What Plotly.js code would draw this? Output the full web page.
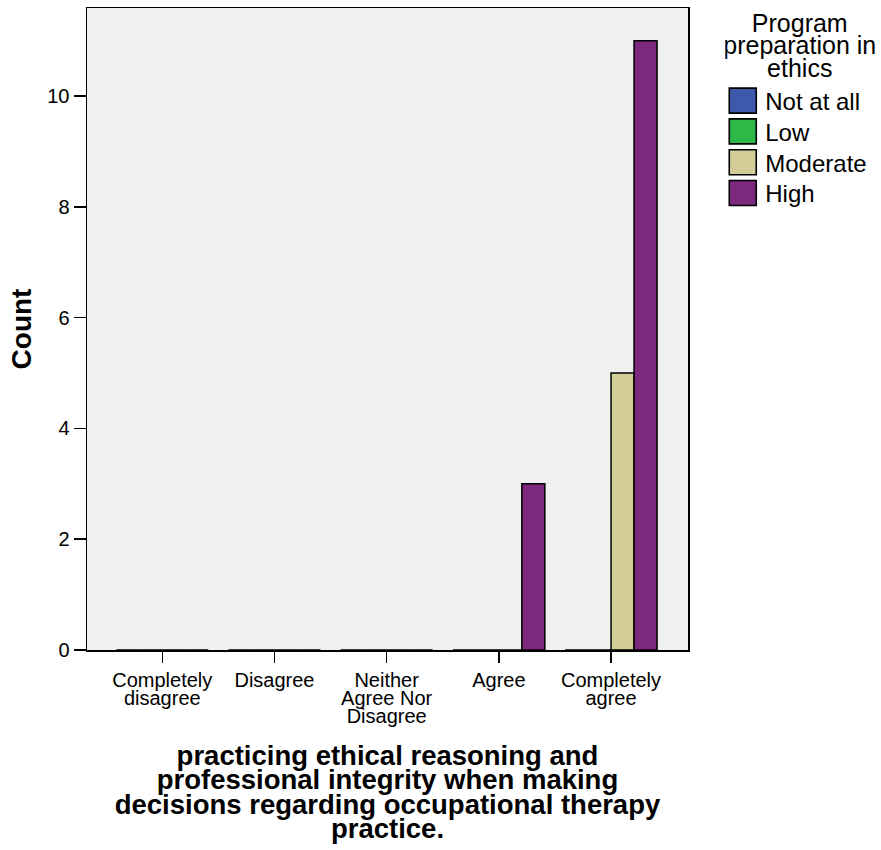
<!DOCTYPE html>
<html>
<head>
<meta charset="utf-8">
<script src="https://cdn.plot.ly/plotly-3.0.1.min.js"></script>
<style>
body { margin: 0; background: #fff; }
#chart { width: 881px; height: 850px; }
</style>
</head>
<body>
<div id="chart"></div>
<script>
const categories = ["Completely<br>disagree", "Disagree", "Neither<br>Agree Nor<br>Disagree", "Agree", "Completely<br>agree"];
const seriesNames = ["Not at all", "Low", "Moderate", "High"];
const seriesColors = ["#3e58ac", "#2eb848", "#d3ce97", "#7b287d"];
const notAtAll = [0, 0, 0, 0, 0];
const low = [0, 0, 0, 0, 0];
const moderate = [0, 0, 0, 0, 5];
const high = [0, 0, 0, 3, 11];
const yTicks = [0, 2, 4, 6, 8, 10];
const seriesValues = [notAtAll, low, moderate, high];

const FONT = "Liberation Sans, Arial, sans-serif";

const traces = seriesNames.map((name, i) => ({
  type: "bar",
  name: name,
  x: categories,
  y: seriesValues[i],
  marker: { color: seriesColors[i], line: { color: "#000", width: 1.5 } },
  hoverinfo: "x+y+name"
}));

const layout = {
  width: 881,
  height: 850,
  margin: { l: 87, r: 193, t: 8, b: 200, autoexpand: false },
  paper_bgcolor: "#ffffff",
  plot_bgcolor: "#f0f0f0",
  barmode: "group",
  bargap: 0.18,
  bargroupgap: 0,
  font: { family: FONT, color: "#000" },
  xaxis: {
    type: "category",
    range: [-0.671, 4.686],
    showline: true, mirror: true, linecolor: "#000", linewidth: 1.5,
    ticks: "outside", ticklen: 11, tickcolor: "#000", tickwidth: 1.5,
    tickfont: { family: FONT, size: 20, color: "#000" },
    showgrid: false, zeroline: false,
    title: { text: "<b>practicing ethical reasoning and<br>professional integrity when making<br>decisions regarding occupational therapy<br>practice.</b>", font: { family: FONT, size: 27.5, color: "#000" }, standoff: 29 },
    automargin: false
  },
  yaxis: {
    range: [0, 11.59],
    tickvals: yTicks,
    showline: true, mirror: true, linecolor: "#000", linewidth: 1.5,
    ticks: "outside", ticklen: 12, tickcolor: "#000", tickwidth: 1.5,
    tickfont: { family: FONT, size: 20, color: "#000" },
    showgrid: false, zeroline: false,
    title: { text: "<b>Count</b>", font: { family: FONT, size: 28, color: "#000" }, standoff: 7 },
    automargin: false
  },
  showlegend: true,
  legend: {
    x: 1.062, xanchor: "left",
    y: 1.0, yanchor: "top",
    bgcolor: "rgba(0,0,0,0)",
    font: { family: FONT, size: 24, color: "#000" },
    title: { text: "Program<br>preparation in<br>ethics", side: "top center", font: { family: FONT, size: 25, color: "#000" } },
    traceorder: "normal",
    itemclick: false
  }
};

function compressLines(sel, factor) {
  document.querySelectorAll(sel).forEach(function (txt) {
    const lines = txt.querySelectorAll("tspan.line");
    lines.forEach(function (ln, i) { ln.setAttribute("dy", (i * factor) + "em"); });
  });
}

function parseTranslate(tr) {
  const m = /translate\(\s*([-\d.e]+)[ ,]+([-\d.e]+)\s*\)/.exec(tr || "");
  return m ? [parseFloat(m[1]), parseFloat(m[2])] : [0, 0];
}

Plotly.newPlot("chart", traces, layout, { displayModeBar: false, staticPlot: true }).then(function () {
  compressLines(".xaxislayer-above .xtick text", 0.9);
  compressLines(".g-xtitle text", 0.89);
  compressLines(".legendtitletext", 0.9);

  // move the x-axis title block down below the tick labels
  const xt = document.querySelector(".g-xtitle text");
  if (xt) {
    const prev = xt.getAttribute("transform") || "";
    xt.setAttribute("transform", (prev + " translate(0,28)").trim());
  }

  // centre the legend title lines
  const lt = document.querySelector(".legendtitletext");
  if (lt) {
    const bb = lt.getBBox();
    const cx = bb.x + bb.width / 2;
    lt.setAttribute("text-anchor", "middle");
    lt.style.textAnchor = "middle";
    lt.setAttribute("x", cx);
    lt.querySelectorAll("tspan.line").forEach(function (ln) { ln.setAttribute("x", cx); });
    lt.setAttribute("transform", "translate(-4,-9)");
  }

  // tighter legend rows with larger swatches
  const items = document.querySelectorAll(".legend .traces");
  if (items.length) {
    const first = parseTranslate(items[0].getAttribute("transform"));
    items.forEach(function (g, i) {
      const t = parseTranslate(g.getAttribute("transform"));
      g.setAttribute("transform", "translate(" + t[0] + "," + (first[1] - 27 + i * 30.8) + ")");
    });
  }
  document.querySelectorAll(".legend .legendpoints path").forEach(function (p) {
    p.setAttribute("d", "M11,12.5H-16V-12.5H11Z");
    p.style.strokeWidth = "1.6px";
  });
});
</script>
</body>
</html>
